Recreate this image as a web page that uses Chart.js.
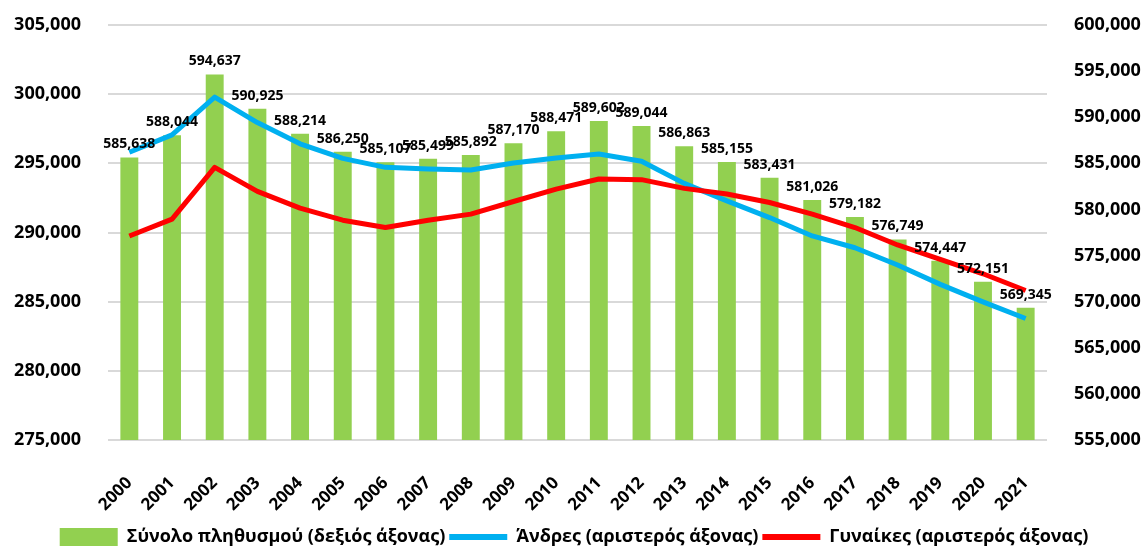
<!DOCTYPE html>
<html>
<head>
<meta charset="utf-8">
<script src="https://cdn.jsdelivr.net/npm/chart.js@4/dist/chart.umd.min.js"></script>
<style>
html,body{margin:0;padding:0;background:#fff;}
#wrap{width:1148px;height:546px;position:relative;}
</style>
</head>
<body>
<div id="wrap"><canvas id="c" width="1148" height="546"></canvas></div>
<script>
const years = ['2000','2001','2002','2003','2004','2005','2006','2007','2008','2009','2010','2011','2012','2013','2014','2015','2016','2017','2018','2019','2020','2021'];
const totalPop = [585638,588044,594637,590925,588214,586250,585107,585499,585892,587170,588471,589602,589044,586863,585155,583431,581026,579182,576749,574447,572151,569345];
const men = [295800,297060,299790,297950,296410,295360,294710,294590,294520,295030,295390,295680,295150,293550,292290,291080,289750,288900,287650,286250,284985,283780];
const women = [289750,290970,294710,292975,291760,290890,290360,290890,291330,292240,293140,293870,293820,293190,292780,292170,291330,290360,289100,288060,287017,285810];
const leftTicks = [275000,280000,285000,290000,295000,300000,305000];
const rightTicks = [555000,560000,565000,570000,575000,580000,585000,590000,595000,600000];
const seriesNames = ['Σύνολο πληθυσμού (δεξιός άξονας)','Άνδρες (αριστερός άξονας)','Γυναίκες (αριστερός άξονας)'];

const FONT = "'Open Sans','Noto Sans',sans-serif";
const fmt = v => Number(v).toLocaleString('en-US');

const barLabels = {
  id: 'barLabels',
  afterDatasetsDraw(chart) {
    const ctx = chart.ctx;
    const meta = chart.getDatasetMeta(0);
    ctx.save();
    ctx.font = "bold 14px " + FONT;
    ctx.fillStyle = '#000';
    ctx.textAlign = 'center';
    ctx.textBaseline = 'middle';
    meta.data.forEach((el, i) => {
      ctx.fillText(fmt(chart.data.datasets[0].data[i]), el.x, el.y - 13);
    });
    ctx.restore();
  }
};

function fixY(width) {
  return function (s) { s.width = width; s.paddingTop = 0; s.paddingBottom = 0; };
}

new Chart(document.getElementById('c'), {
  data: {
    labels: years,
    datasets: [
      { type: 'bar', label: seriesNames[0], data: totalPop, yAxisID: 'yR',
        backgroundColor: '#92D050', borderColor: '#92D050', borderWidth: 0,
        barPercentage: 0.42, categoryPercentage: 1, order: 3 },
      { type: 'line', label: seriesNames[1], data: men, yAxisID: 'yL',
        borderColor: '#00B0F0', backgroundColor: '#00B0F0', borderWidth: 5,
        pointRadius: 0, tension: 0, order: 2, borderJoinStyle: 'round' },
      { type: 'line', label: seriesNames[2], data: women, yAxisID: 'yL',
        borderColor: '#FF0000', backgroundColor: '#FF0000', borderWidth: 5,
        pointRadius: 0, tension: 0, order: 1, borderJoinStyle: 'round' }
    ]
  },
  options: {
    responsive: false,
    animation: false,
    layout: { padding: { top: 25, left: 0, right: 0, bottom: -10 } },
    plugins: {
      tooltip: { enabled: false },
      legend: {
        position: 'bottom',
        labels: {
          color: '#000',
          font: { family: FONT, size: 18, weight: 'bold' },
          usePointStyle: true,
          pointStyleWidth: 58,
          boxHeight: 20,
          padding: 4,
          generateLabels(chart) {
            return chart.data.datasets.map((ds, i) => ({
              text: ds.label,
              fillStyle: ds.backgroundColor,
              strokeStyle: ds.borderColor,
              lineWidth: ds.type === 'line' ? 6 : 0,
              pointStyle: ds.type === 'line' ? 'line' : 'rect',
              datasetIndex: i,
              hidden: false,
              fontColor: '#000'
            }));
          }
        }
      }
    },
    scales: {
      x: {
        grid: { display: false },
        border: { display: false },
        ticks: {
          color: '#000', font: { family: FONT, size: 17, weight: 'bold' },
          minRotation: 45, maxRotation: 45, padding: 25, autoSkip: false
        },
        afterFit(s) { s.height = 84; }
      },
      yL: {
        position: 'left', min: 275000, max: 305000,
        grid: { color: '#D9D9D9', lineWidth: 2, drawTicks: false },
        border: { display: false },
        afterBuildTicks(s) { s.ticks = leftTicks.map(v => ({ value: v })); },
        ticks: { color: '#000', font: { family: FONT, size: 18, weight: 'bold' }, padding: 27, callback: v => fmt(v) },
        afterFit: fixY(108)
      },
      yR: {
        position: 'right', min: 555000, max: 600000,
        grid: { display: false, drawTicks: false },
        border: { display: false },
        afterBuildTicks(s) { s.ticks = rightTicks.map(v => ({ value: v })); },
        ticks: { color: '#000', font: { family: FONT, size: 18, weight: 'bold' }, padding: 27, callback: v => fmt(v) },
        afterFit: fixY(101)
      }
    }
  },
  plugins: [barLabels]
});
</script>
</body>
</html>
